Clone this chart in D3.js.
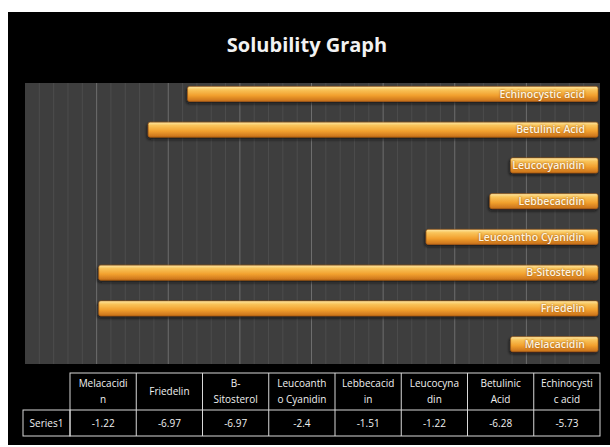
<!DOCTYPE html>
<html>
<head>
<meta charset="utf-8">
<script src="https://cdn.jsdelivr.net/npm/d3@7"></script>
<style>
  html, body { margin: 0; padding: 0; background: #fff; }
  svg { display: block; }
  text { font-family: "Open Sans", "Liberation Sans", sans-serif; }
</style>
</head>
<body>
<svg id="chart" width="610" height="447"></svg>
<script>
// Solubility values per compound (table order; first one is drawn at the bottom)
const categories = ["Melacacidin", "Friedelin", "B-Sitosterol", "Leucoantho Cyanidin",
                    "Lebbecacidin", "Leucocyanidin", "Betulinic Acid", "Echinocystic acid"];
const values = [-1.22, -6.97, -6.97, -2.4, -1.51, -1.22, -6.28, -5.73];
// Header text of the data table, as it wraps in each cell
const headerLines = [["Melacacidi", "n"], ["Friedelin"], ["B-", "Sitosterol"], ["Leucoanth", "o Cyanidin"],
                     ["Lebbecacid", "in"], ["Leucocyna", "din"], ["Betulinic", "Acid"], ["Echinocysti", "c acid"]];
const seriesName = "Series1";
const title = "Solubility Graph";
const majorTicks = [-8, -7, -6, -5, -4, -3, -2, -1, 0];
const minorStep = 0.2;

const svg = d3.select("#chart");
const plot = { left: 25, right: 600, top: 83, bottom: 364 };

// Chart frame
svg.append("rect").attr("x", 8).attr("y", 12).attr("width", 602).attr("height", 433).attr("fill", "#000");

svg.append("text")
  .attr("x", 307).attr("y", 52)
  .attr("text-anchor", "middle")
  .attr("fill", "#f2f2f2")
  .attr("font-family", "Lato, 'Open Sans', sans-serif")
  .attr("font-weight", 700)
  .attr("font-size", 20)
  .text(title);

// Scales
const x = d3.scaleLinear().domain([-8, 0]).range([plot.left, 598]);
const y = d3.scaleBand().domain(categories).range([362, 76]).padding(0);

// Plot area background and gridlines
svg.append("rect")
  .attr("x", plot.left).attr("y", plot.top)
  .attr("width", plot.right - plot.left).attr("height", plot.bottom - plot.top)
  .attr("fill", "#3e3e3e");

const minorTicks = d3.range(-8, 0.001, minorStep).filter(v => Math.abs(v - Math.round(v)) > 1e-6);
svg.append("g").selectAll("line").data(minorTicks).join("line")
  .attr("x1", d => x(d)).attr("x2", d => x(d))
  .attr("y1", plot.top).attr("y2", plot.bottom)
  .attr("stroke", "#4d4d4d").attr("stroke-width", 1);

svg.append("g").selectAll("line").data(majorTicks.slice(1, -1)).join("line")
  .attr("x1", d => x(d)).attr("x2", d => x(d))
  .attr("y1", plot.top).attr("y2", plot.bottom)
  .attr("stroke", "#6e6e6e").attr("stroke-width", 1);

// Bar fill and shadow
const defs = svg.append("defs");
const grad = defs.append("linearGradient").attr("id", "barGrad")
  .attr("x1", 0).attr("y1", 0).attr("x2", 0).attr("y2", 1);
grad.append("stop").attr("offset", "0%").attr("stop-color", "#fde9a6");
grad.append("stop").attr("offset", "22%").attr("stop-color", "#f9c45a");
grad.append("stop").attr("offset", "60%").attr("stop-color", "#f2a02e");
grad.append("stop").attr("offset", "100%").attr("stop-color", "#c8701a");

const shadow = defs.append("filter").attr("id", "barShadow")
  .attr("x", "-5%").attr("y", "-50%").attr("width", "110%").attr("height", "200%");
shadow.append("feDropShadow").attr("dx", -1).attr("dy", 2).attr("stdDeviation", 1.5)
  .attr("flood-color", "#101010").attr("flood-opacity", 0.8);

const barH = 15;
const rows = categories.map((c, i) => ({ name: c, value: values[i] }));

svg.append("g").selectAll("rect").data(rows).join("rect")
  .attr("x", d => x(d.value))
  .attr("y", d => y(d.name) + y.bandwidth() / 2 - barH / 2)
  .attr("width", d => x(0) - x(d.value))
  .attr("height", barH)
  .attr("rx", 2)
  .attr("fill", "url(#barGrad)")
  .attr("stroke", "#a55a12").attr("stroke-width", 0.6)
  .attr("filter", "url(#barShadow)");

// Category labels inside the bar ends
svg.append("g").selectAll("text").data(rows).join("text")
  .attr("x", x(0) - 13)
  .attr("y", d => y(d.name) + y.bandwidth() / 2 + 3.8)
  .attr("text-anchor", "end")
  .attr("fill", "#fff4e0")
  .attr("font-size", 10.5)
  .attr("font-weight", 600)
  .style("text-shadow", "0 0 2px #8a4a08")
  .text(d => d.name);

// Data table under the plot
const col = d3.scaleBand().domain(categories).range([70, 600]);
const tTop = 373, tMid = 410, tBot = 436, seriesLeft = 23;
const tbl = svg.append("g").attr("stroke", "#d8d8d8").attr("stroke-width", 1).attr("fill", "none");
tbl.append("rect").attr("x", 70).attr("y", tTop).attr("width", 530).attr("height", tBot - tTop);
tbl.append("rect").attr("x", seriesLeft).attr("y", tMid).attr("width", 70 - seriesLeft).attr("height", tBot - tMid);
tbl.append("line").attr("x1", 70).attr("x2", 600).attr("y1", tMid).attr("y2", tMid);
tbl.selectAll("line.col").data(categories.slice(1)).join("line").attr("class", "col")
  .attr("x1", d => col(d)).attr("x2", d => col(d))
  .attr("y1", tTop).attr("y2", tBot);

const txt = svg.append("g").attr("fill", "#f0f0f0").attr("font-size", 10).attr("text-anchor", "middle");
categories.forEach((c, i) => {
  const cx = col(c) + col.bandwidth() / 2;
  const lines = headerLines[i];
  const y0 = lines.length === 1 ? 395 : 387;
  lines.forEach((ln, j) => {
    txt.append("text").attr("x", cx).attr("y", y0 + j * 16).text(ln);
  });
  txt.append("text").attr("x", cx).attr("y", 427).text(values[i]);
});
txt.append("text").attr("x", (seriesLeft + 70) / 2).attr("y", 427).text(seriesName);
</script>
</body>
</html>
